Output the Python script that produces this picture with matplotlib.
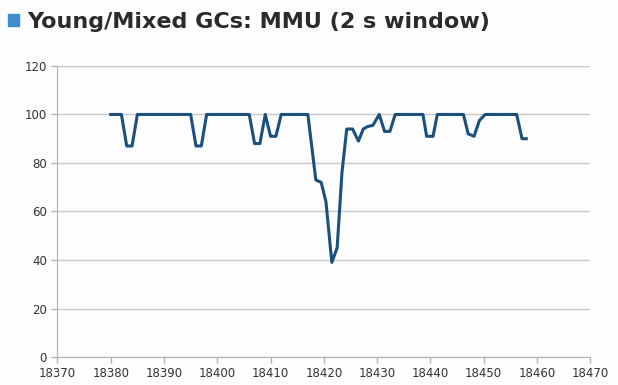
import matplotlib
matplotlib.use("Agg")
import matplotlib.pyplot as plt
from matplotlib.patches import Rectangle

# MMU values
time_s = [18380, 18382, 18383, 18384, 18385, 18395, 18396, 18397, 18398,
          18406, 18407, 18408, 18409, 18410, 18411, 18412, 18417, 18418.5,
          18419.5, 18420.4, 18421.5, 18422.5, 18423.4, 18424.3, 18425.4,
          18426.5, 18427.4, 18428.2, 18429.2, 18430.4, 18431.4, 18432.4,
          18433.4, 18438.6, 18439.3, 18440.5, 18441.3, 18446.2, 18447.1,
          18448.2, 18449.2, 18450.3, 18456.2, 18457.2, 18458]
mmu = [100, 100, 87, 87, 100, 100, 87, 87, 100,
       100, 88, 88, 100, 91, 91, 100, 100, 73,
       72, 64, 39, 45, 76, 94, 94,
       89, 94, 95, 95.5, 100, 93, 93,
       100, 100, 91, 91, 100, 100, 92,
       91, 97.5, 100, 100, 90, 90]

x_ticks = list(range(18370, 18471, 10))
y_ticks = list(range(0, 121, 20))
title = "Young/Mixed GCs: MMU (2 s window)"

fig = plt.figure(figsize=(6.18, 3.85), dpi=100)
fig.patch.set_facecolor("#fdfcfe")
ax = fig.add_axes([0.093, 0.0727, 0.862, 0.756])
ax.set_facecolor("#fdfcfe")

ax.plot(time_s, mmu, color="#1b4f7c", linewidth=2.2, solid_joinstyle="round")

ax.set_xlim(18370, 18470)
ax.set_ylim(0, 120)
ax.set_xticks(x_ticks)
ax.set_yticks(y_ticks)
ax.tick_params(axis="both", colors="#b3b3b3", labelcolor="#333333",
               labelsize=8.5, length=4, width=1)
ax.grid(axis="y", color="#c8c8c8", linewidth=1)
ax.set_axisbelow(True)
ax.spines["top"].set_visible(False)
ax.spines["right"].set_visible(False)
for side in ["left", "bottom"]:
    ax.spines[side].set_color("#b3b3b3")

# title with legend square
fig.patches.append(Rectangle((8 / 618, 1 - 26 / 385), 11 / 618, 12 / 385,
                             transform=fig.transFigure, color="#3b8fd0"))
fig.text(27 / 618, 1 - 22 / 385, title, fontsize=16, fontweight="bold",
         color="#2b2b2b", va="center", ha="left")

plt.savefig("out.png", dpi=100, facecolor=fig.get_facecolor())
plt.close()
